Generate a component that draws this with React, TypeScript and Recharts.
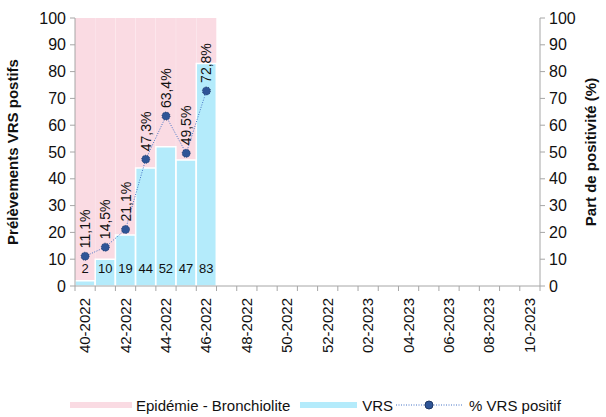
import React from "react";
import { Bar, ComposedChart, LabelList, Legend, Line, XAxis, YAxis } from "recharts";

const weeks = [
    "40-2022", "41-2022", "42-2022", "43-2022", "44-2022", "45-2022", "46-2022",
    "47-2022", "48-2022", "49-2022", "50-2022", "51-2022", "52-2022",
    "01-2023", "02-2023", "03-2023", "04-2023", "05-2023", "06-2023",
    "07-2023", "08-2023", "09-2023", "10-2023",
];
const epidemicLevel = [100, 100, 100, 100, 100, 100, 100, null, null, null, null, null, null, null, null, null, null, null, null, null, null, null, null];
const vrsCounts = [2, 10, 19, 44, 52, 47, 83, null, null, null, null, null, null, null, null, null, null, null, null, null, null, null, null];
const vrsPositivePct = [11.1, 14.5, 21.1, 47.3, 63.4, 49.5, 72.8, null, null, null, null, null, null, null, null, null, null, null, null, null, null, null, null];
const axisTicks = [0, 10, 20, 30, 40, 50, 60, 70, 80, 90, 100];

const FONT = "'Liberation Sans', Arial, sans-serif";
const PINK = "#fadbe3";
const BLUE = "#b4ebfb";
const NAVY = "#2f5597";
const AXIS = "#a6a6a6";

const W = 606;
const H = 417;
const MARGIN = { top: 18, right: 0, left: 0, bottom: 0 };
const LEFT_W = 75;
const RIGHT_W = 66;
const BAND = (W - LEFT_W - RIGHT_W) / weeks.length;

const data = weeks.map((week, i) => ({
    week,
    epidemic: epidemicLevel[i],
    vrs: vrsCounts[i],
    pct: vrsPositivePct[i],
}));

const fmtPct = (v: number) => `${v.toFixed(1).replace(".", ",")}%`;

function WeekTick(props: any) {
    const { x, y, payload, index } = props;
    const top = y - 8;
    return (
        <g>
            <line x1={x - BAND / 2} x2={x - BAND / 2} y1={top} y2={top + 5} stroke={AXIS} />
            {index === weeks.length - 1 && <line x1={x + BAND / 2} x2={x + BAND / 2} y1={top} y2={top + 5} stroke={AXIS} />}
            {index % 2 === 0 && (
                <text
                    x={0}
                    y={0}
                    transform={`translate(${x + 5},${top + 12}) rotate(-90)`}
                    textAnchor="end"
                    fontSize={15}
                    fontFamily={FONT}
                    fill="#111"
                >
                    {payload.value}
                </text>
            )}
        </g>
    );
}

function PctLabel(props: any) {
    const { x, y, value } = props;
    if (value == null) return null;
    return (
        <text transform={`translate(${x + 5},${y - 8}) rotate(-90)`} textAnchor="start" fontSize={14} fontFamily={FONT} fill="#111">
            {fmtPct(Number(value))}
        </text>
    );
}

function CountLabel(props: any) {
    const { x, y, width, height, value } = props;
    if (value == null) return null;
    return (
        <text x={x + width / 2} y={y + height - 13} textAnchor="middle" fontSize={13} fontFamily={FONT} fill="#111">
            {value}
        </text>
    );
}

function AxisTitle({ viewBox, text, side }: any) {
    if (!viewBox) return null;
    const cx = side === "left" ? 18 : W - 10;
    const cy = viewBox.y + viewBox.height / 2;
    return (
        <text transform={`translate(${cx},${cy}) rotate(-90)`} textAnchor="middle" fontSize={15} fontWeight={700} fontFamily={FONT} fill="#111">
            {text}
        </text>
    );
}

function LegendBox() {
    const item = { display: "flex", alignItems: "center" } as const;
    return (
        <div style={{ display: "flex", alignItems: "center", paddingLeft: 70, fontFamily: FONT, fontSize: 15, color: "#111", height: 24 }}>
            <div style={item}>
                <span style={{ width: 62, height: 6, background: PINK, marginRight: 4 }} />
                <span>Epidémie - Bronchiolite</span>
            </div>
            <div style={{ ...item, marginLeft: 10 }}>
                <span style={{ width: 57, height: 6, background: BLUE, marginRight: 5 }} />
                <span>VRS</span>
            </div>
            <div style={{ ...item, marginLeft: 2 }}>
                <svg width={68} height={12} style={{ marginRight: 6 }}>
                    <line x1={1} x2={67} y1={6} y2={6} stroke="#4472c4" strokeWidth={1} strokeDasharray="1 1.5" />
                    <circle cx={34} cy={6} r={4} fill={NAVY} stroke="#1f3864" strokeWidth={1} />
                </svg>
                <span>% VRS positif</span>
            </div>
        </div>
    );
}

export default function App() {
    return (
        <div style={{ position: "fixed", left: 0, top: 0, width: W, height: H, background: "#fff" }}>
            <ComposedChart width={W} height={H} data={data} margin={MARGIN} barCategoryGap={0} barGap={0}>
                <XAxis
                    xAxisId="main"
                    dataKey="week"
                    interval={0}
                    height={107}
                    axisLine={{ stroke: AXIS }}
                    tickLine={false}
                    tick={<WeekTick />}
                />
                <XAxis xAxisId="bg" dataKey="week" hide height={0} />
                <YAxis
                    yAxisId="left"
                    width={LEFT_W}
                    domain={[0, 100]}
                    ticks={axisTicks}
                    interval={0}
                    axisLine={{ stroke: AXIS }}
                    tickLine={{ stroke: AXIS }}
                    tickSize={5}
                    tickMargin={4}
                    tick={{ fill: "#111", fontSize: 16, fontFamily: FONT }}
                    label={<AxisTitle text="Prélèvements VRS postifs" side="left" />}
                />
                <YAxis
                    yAxisId="right"
                    orientation="right"
                    width={RIGHT_W}
                    domain={[0, 100]}
                    ticks={axisTicks}
                    interval={0}
                    axisLine={{ stroke: AXIS }}
                    tickLine={{ stroke: AXIS }}
                    tickSize={5}
                    tickMargin={4}
                    tick={{ fill: "#111", fontSize: 16, fontFamily: FONT }}
                    label={<AxisTitle text="Part de positivité (%)" side="right" />}
                />
                <Bar xAxisId="bg" yAxisId="left" dataKey="epidemic" name="Epidémie - Bronchiolite" fill={PINK} isAnimationActive={false} />
                <Bar xAxisId="main" yAxisId="left" dataKey="vrs" name="VRS" fill={BLUE} stroke="#fff" strokeWidth={1.5} isAnimationActive={false}>
                    <LabelList dataKey="vrs" content={<CountLabel />} />
                </Bar>
                <Line
                    xAxisId="main"
                    yAxisId="right"
                    dataKey="pct"
                    name="% VRS positif"
                    stroke="#4472c4"
                    strokeWidth={1}
                    strokeDasharray="1 1.5"
                    dot={{ r: 4, fill: NAVY, stroke: "#1f3864", strokeWidth: 1 }}
                    activeDot={false}
                    isAnimationActive={false}
                >
                    <LabelList dataKey="pct" content={<PctLabel />} />
                </Line>
                <Legend verticalAlign="bottom" height={24} wrapperStyle={{ left: 0, width: W }} content={<LegendBox />} />
            </ComposedChart>
        </div>
    );
}
